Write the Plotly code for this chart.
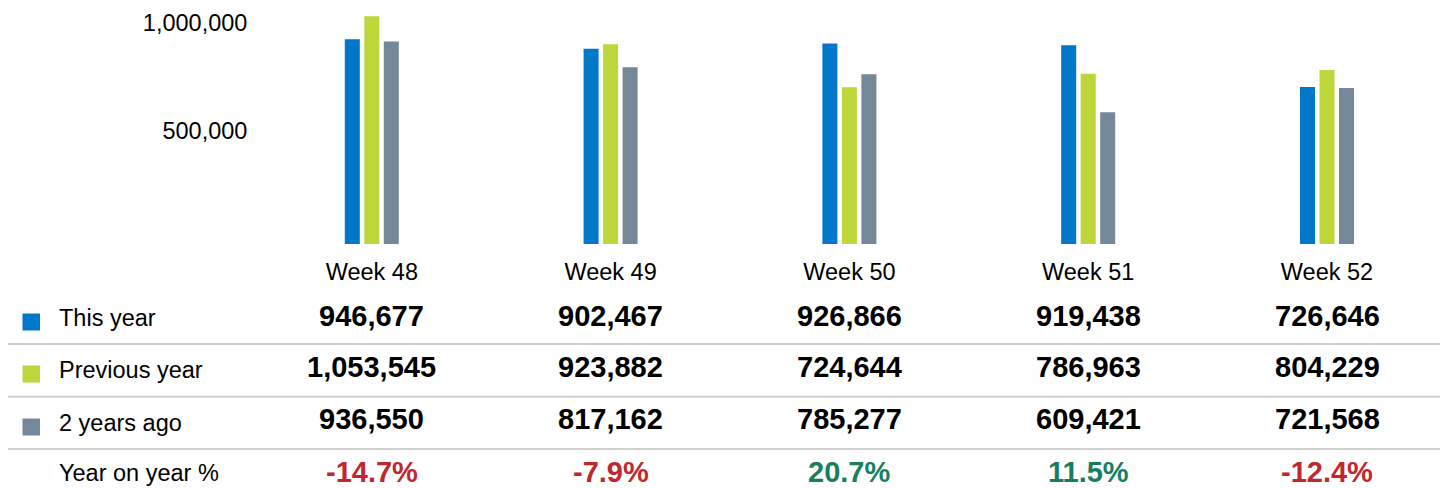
import plotly.graph_objects as go

# page body has an 8px default margin; lay out in reference pixels minus that offset
OFF = 8
W, H = 1448 - OFF, 488 - OFF

weeks = ["Week 48", "Week 49", "Week 50", "Week 51", "Week 52"]
series_names = ["This year", "Previous year", "2 years ago"]
this_year = [946677, 902467, 926866, 919438, 726646]
previous_year = [1053545, 923882, 724644, 786963, 804229]
two_years_ago = [936550, 817162, 785277, 609421, 721568]
yoy_pct = [-14.7, -7.9, 20.7, 11.5, -12.4]
y_ticks = [500000, 1000000]
y_tick_labels = ["500,000", "1,000,000"]

colors = ["#0077C8", "#BDD63A", "#748899"]
RED = "#C1272D"
GREEN = "#177E5F"
FONT = "Liberation Sans, Arial, sans-serif"


def px_x(x):
    return (x - OFF) / W


def px_y(y):
    return (H - (y - OFF)) / H


fig = go.Figure()
for name, vals, c in zip(series_names, [this_year, previous_year, two_years_ago], colors):
    fig.add_trace(go.Bar(x=weeks, y=vals, name=name, marker=dict(color=c, line=dict(width=0)),
                         showlegend=False, hoverinfo="x+y+name"))

base_y = 244
units_per_px = 4625
fig.update_layout(
    width=W, height=H,
    margin=dict(l=0, r=0, t=0, b=0),
    paper_bgcolor="white", plot_bgcolor="white",
    barmode="group", bargap=0.755, bargroupgap=0.23,
    font=dict(family=FONT, color="#000000"),
    xaxis=dict(domain=[px_x(252.4), px_x(1446.4)], showgrid=False, showline=False, zeroline=False,
               ticks="", tickfont=dict(size=23.5, color="#000000"), ticklabelstandoff=11,
               fixedrange=True),
    yaxis=dict(domain=[px_y(base_y), 1.0], range=[0, (base_y - OFF) * units_per_px],
               showgrid=False, showline=False,
               zeroline=False, tickmode="array", tickvals=y_ticks, ticktext=y_tick_labels,
               tickfont=dict(size=23.5, color="#000000"), ticks="", ticklabelstandoff=4,
               ticklabelshift=-5, fixedrange=True),
)

# table rows
label_y = [318, 370, 423, 472.5]
value_y = [315.5, 366.5, 418.5, 471.5]
row_labels = series_names + ["Year on year %"]
rows = [this_year, previous_year, two_years_ago]

shapes = []
for i, lab in enumerate(row_labels):
    fig.add_annotation(x=px_x(57), y=px_y(label_y[i]), xref="paper", yref="paper", text=lab,
                       showarrow=False, xanchor="left", yanchor="middle",
                       font=dict(size=23.5, color="#000000", family=FONT))
for i, vals in enumerate(rows):
    for w, v in zip(weeks, vals):
        fig.add_annotation(x=w, y=px_y(value_y[i]), xref="x", yref="paper",
                           text=f"<b>{v:,}</b>", showarrow=False, xanchor="center",
                           yanchor="middle", font=dict(size=29, color="#000000", family=FONT))
for w, p in zip(weeks, yoy_pct):
    fig.add_annotation(x=w, y=px_y(value_y[3]), xref="x", yref="paper",
                       text=f"<b>{p:.1f}%</b>", showarrow=False, xanchor="center",
                       yanchor="middle",
                       font=dict(size=29, color=(GREEN if p >= 0 else RED), family=FONT))

# legend squares
sq_centers = [322, 374, 427]
for c, yc in zip(colors, sq_centers):
    shapes.append(dict(type="rect", xref="paper", yref="paper",
                       x0=px_x(22.5), x1=px_x(40), y0=px_y(yc + 8.5), y1=px_y(yc - 8.5),
                       fillcolor=c, line=dict(width=0)))

# separator lines
for ly in [344, 396.7, 449]:
    shapes.append(dict(type="line", xref="paper", yref="paper",
                       x0=px_x(8), x1=px_x(1445), y0=px_y(ly), y1=px_y(ly),
                       line=dict(color="#D0D0D0", width=2)))

fig.update_layout(shapes=shapes)
fig.write_html("out.html")
